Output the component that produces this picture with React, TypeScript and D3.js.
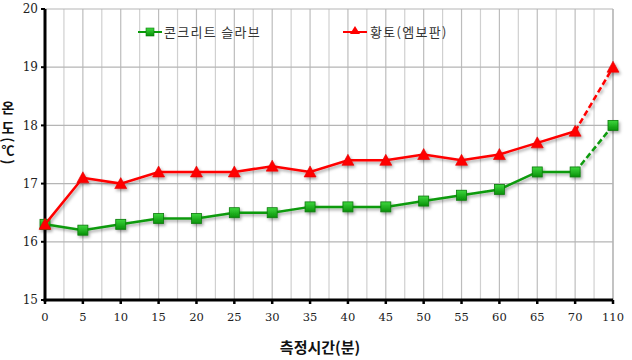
import React from "react";
import * as d3 from "d3";

const categories = ["0", "5", "10", "15", "20", "25", "30", "35", "40", "45", "50", "55", "60", "65", "70", "110"];
const concreteSlab = [16.3, 16.2, 16.3, 16.4, 16.4, 16.5, 16.5, 16.6, 16.6, 16.6, 16.7, 16.8, 16.9, 17.2, 17.2, 18.0];
const hwangto = [16.3, 17.1, 17.0, 17.2, 17.2, 17.2, 17.3, 17.2, 17.4, 17.4, 17.5, 17.4, 17.5, 17.7, 17.9, 19.0];
const yTicks = [15, 16, 17, 18, 19, 20];
const seriesNames = ["콘크리트 슬라브", "황토(엠보판)"];

const W = 632, H = 360;
const L = 45, R = 613, T = 9, B = 300;

export default function App() {
  const x = d3.scalePoint<string>().domain(categories).range([L, R]);
  const y = d3.scaleLinear().domain([15, 20]).range([B, T]);
  const step = x.step();
  const n = categories.length;

  const line = d3.line<number>().x((_, i) => x(categories[i])!).y((d) => y(d));
  const solid = (arr: number[]) => line(arr.slice(0, n - 1))!;
  const dashed = (arr: number[]) =>
    d3.line<number>().x((_, i) => x(categories[n - 2 + i])!).y((d) => y(d))(arr.slice(n - 2))!;

  const gridX: number[] = [];
  for (let i = 0; i < n; i++) {
    gridX.push(x(categories[i])!);
    if (i < n - 1) gridX.push(x(categories[i])! + step / 2);
  }

  const square = (cx: number, cy: number, k: string) => (
    <rect key={k} x={cx - 5} y={cy - 5} width={10} height={10} fill="url(#gsq)" stroke="#0a7a0a" strokeWidth={0.8} />
  );
  const tri = (cx: number, cy: number, k: string) => (
    <path key={k} d={`M${cx},${cy - 6}L${cx + 6},${cy + 5}L${cx - 6},${cy + 5}Z`} fill="#ff0000" stroke="#e00000" strokeWidth={0.6} />
  );

  return (
    <svg width={W} height={H} style={{ position: "absolute", left: 0, top: 0 }} fontFamily="'Noto Sans CJK KR', sans-serif">
      <defs>
        <filter id="sh" x="-10%" y="-10%" width="120%" height="130%">
          <feDropShadow dx="1.5" dy="2" stdDeviation="1.5" floodColor="#000" floodOpacity="0.35" />
        </filter>
        <linearGradient id="gsq" x1="0" y1="0" x2="0" y2="1">
          <stop offset="0" stopColor="#3fd83f" />
          <stop offset="1" stopColor="#089008" />
        </linearGradient>
      </defs>
      <rect width={W} height={H} fill="#fff" />
      {gridX.map((gx, i) => (
        <line key={"gx" + i} x1={gx} x2={gx} y1={T} y2={B} stroke={i % 2 === 0 ? "#bdbdbd" : "#d0d0d0"} strokeWidth={1.2} />
      ))}
      {yTicks.map((t) => (
        <line key={"gy" + t} x1={L} x2={R} y1={y(t)} y2={y(t)} stroke="#b5b5b5" strokeWidth={1.2} />
      ))}
      <line x1={R} x2={R} y1={T} y2={B} stroke="#b5b5b5" strokeWidth={1.2} />
      {/* axes */}
      <line x1={L} x2={L} y1={T} y2={B + 1.5} stroke="#000" strokeWidth={3} />
      <line x1={L - 1.5} x2={R} y1={B} y2={B} stroke="#000" strokeWidth={3} />
      {yTicks.map((t) => (
        <g key={"yt" + t}>
          <line x1={L - 4} x2={L} y1={y(t)} y2={y(t)} stroke="#000" strokeWidth={2} />
          <text x={L - 7} y={y(t)} dy="0.35em" textAnchor="end" fontSize={12} fontFamily="'DejaVu Serif', serif" fill="#222">{t}</text>
        </g>
      ))}
      {categories.map((c) => (
        <g key={"xt" + c}>
          <line x1={x(c)!} x2={x(c)!} y1={B} y2={B + 4} stroke="#000" strokeWidth={2.5} />
          <text x={x(c)!} y={B + 21} textAnchor="middle" fontSize={11.5} fontFamily="'DejaVu Serif', serif" fill="#222">{c}</text>
        </g>
      ))}
      {/* series */}
      <g filter="url(#sh)">
        <path d={solid(concreteSlab)} fill="none" stroke="#0a9a0a" strokeWidth={2.5} />
        <path d={dashed(concreteSlab)} fill="none" stroke="#0a9a0a" strokeWidth={2.5} strokeDasharray="6,3" />
        {concreteSlab.map((v, i) => square(x(categories[i])!, y(v), "s" + i))}
        <path d={solid(hwangto)} fill="none" stroke="#ff0000" strokeWidth={2.5} />
        <path d={dashed(hwangto)} fill="none" stroke="#ff0000" strokeWidth={2.5} strokeDasharray="6,3" />
        {hwangto.map((v, i) => tri(x(categories[i])!, y(v), "t" + i))}
      </g>
      {/* legend */}
      <line x1={138} x2={162} y1={32} y2={32} stroke="#0a9a0a" strokeWidth={2} />
      <rect x={146} y={28} width={8} height={8} fill="url(#gsq)" stroke="#0a7a0a" strokeWidth={0.6} />
      <text x={164} y={37} fontSize={13} letterSpacing={1.3} fill="#333">{seriesNames[0]}</text>
      <line x1={343} x2={367} y1={32} y2={32} stroke="#ff0000" strokeWidth={2} />
      <path d="M355,26L360,34L350,34Z" fill="#ff0000" />
      <text x={370} y={37} fontSize={13} letterSpacing={1.3} fill="#333">{seriesNames[1]}</text>
      {/* axis titles */}
      <text x={8} y={113} textAnchor="middle" fontSize={14} fontWeight="bold" fill="#111">온</text>
      <text x={8} y={133} textAnchor="middle" fontSize={14} fontWeight="bold" fill="#111">도</text>
      <text transform="translate(8,140) rotate(90)" textAnchor="middle" dy="0.35em" fontSize={14} fontWeight="bold" fill="#111">(</text>
      <text x={8} y={155} textAnchor="middle" fontSize={13} fontWeight="bold" fill="#111">℃</text>
      <text transform="translate(8,162) rotate(90)" textAnchor="middle" dy="0.35em" fontSize={14} fontWeight="bold" fill="#111">)</text>
      <text x={320} y={353} textAnchor="middle" fontSize={15} fontWeight="bold" fill="#111">측정시간(분)</text>
    </svg>
  );
}
